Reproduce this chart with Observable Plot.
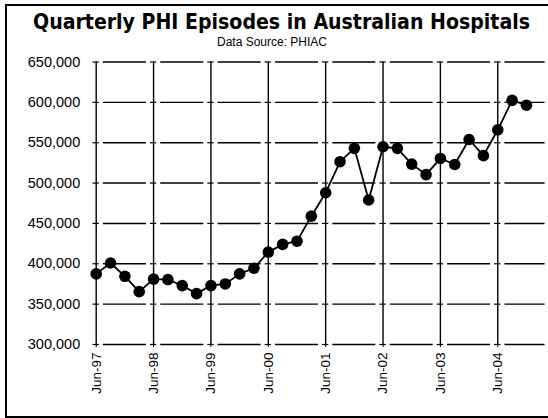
<!DOCTYPE html>
<html>
<head>
<meta charset="utf-8">
<script src="https://cdn.jsdelivr.net/npm/d3@7"></script>
<script src="https://cdn.jsdelivr.net/npm/@observablehq/plot@0.6"></script>
<style>
  html, body { margin: 0; padding: 0; background: #fff; }
  body { width: 548px; height: 418px; position: relative; overflow: hidden; }
  #frame { position: absolute; left: 5px; top: 4px; width: 543px; height: 414px; box-sizing: border-box;
           border-left: 2px solid #000; border-top: 2px solid #000; border-bottom: 2px solid #000; }
  #title { position: absolute; left: 33px; top: 11px; white-space: nowrap; transform-origin: 0 0;
           font-family: "DejaVu Sans Condensed", "DejaVu Sans", sans-serif; font-stretch: condensed;
           font-weight: bold; font-size: 22px; line-height: 1; color: #000; }
  #subtitle { position: absolute; left: 0; top: 36px; width: 544px; text-align: center;
              font-family: "Liberation Sans", Arial, sans-serif; font-size: 12px; line-height: 1; color: #000; }
  #chart { position: absolute; left: 0; top: 50px; }
</style>
</head>
<body>
<div id="frame"></div>
<div id="title">Quarterly PHI Episodes in Australian Hospitals</div>
<div id="subtitle">Data Source: PHIAC</div>
<div id="chart"></div>
<script>
const quarters = ["Jun-97","Sep-97","Dec-97","Mar-98","Jun-98","Sep-98","Dec-98","Mar-99",
                  "Jun-99","Sep-99","Dec-99","Mar-00","Jun-00","Sep-00","Dec-00","Mar-01",
                  "Jun-01","Sep-01","Dec-01","Mar-02","Jun-02","Sep-02","Dec-02","Mar-03",
                  "Jun-03","Sep-03","Dec-03","Mar-04","Jun-04","Sep-04","Dec-04"];
const episodes = [387500, 401000, 384500, 365500, 381000, 380500, 373000, 363000,
                  373000, 375000, 387500, 394500, 414500, 424000, 428000, 459000,
                  488000, 526500, 543000, 479000, 545000, 543000, 523500, 510500,
                  530500, 523000, 554000, 534000, 566000, 602500, 596500];
const xTickLabels = ["Jun-97","Jun-98","Jun-99","Jun-00","Jun-01","Jun-02","Jun-03","Jun-04"];
const yTicks = [300000, 350000, 400000, 450000, 500000, 550000, 600000, 650000];

// fit the title width (x 33 → 530)
const titleEl = document.getElementById("title");
const w0 = titleEl.getBoundingClientRect().width;
titleEl.style.transform = `scaleX(${497 / w0})`;

const data = quarters.map((q, i) => ({i, q, v: episodes[i]}));
const xMax = quarters.length + 0.3;
const yearIdx = xTickLabels.map(l => quarters.indexOf(l));

const segs = [];
const cross = [];
for (const v of yTicks) {
  yearIdx.forEach((k, j) => {
    const next = j + 1 < yearIdx.length ? yearIdx[j + 1] - 0.5 : xMax;
    segs.push({v, a: k + 0.5, b: next});
    cross.push({v, a: k - 0.22, b: k + 0.22});
  });
}

const chart = Plot.plot({
  width: 548,
  height: 368,
  marginLeft: 95.7,
  marginRight: 3.4,
  marginTop: 11.5,
  marginBottom: 74,
  style: {fontFamily: "'Liberation Sans', Arial, sans-serif", color: "#000", background: "transparent"},
  x: {domain: [0, xMax], axis: null},
  y: {domain: [300000, 650000], axis: null},
  marks: [
    Plot.ruleY(segs, {y: "v", x1: "a", x2: "b", stroke: "#000", strokeWidth: 1.4}),
    Plot.ruleY(cross, {y: "v", x1: "a", x2: "b", stroke: "#000", strokeWidth: 1.2}),
    Plot.ruleX(yearIdx, {x: d => d, y1: 300000, y2: 650000, stroke: "#000", strokeWidth: 1.4}),
    Plot.axisX(yearIdx, {x: d => d, tickSize: 3, tickPadding: 5, tickRotate: -90, label: null,
      tickFormat: i => quarters[i], fontSize: 13.5, stroke: "#000"}),
    Plot.axisY(yTicks, {y: d => d, tickSize: 0, tickPadding: 16, label: null,
      tickFormat: d3.format(","), fontSize: 14.5}),
    Plot.line(data, {x: "i", y: "v", stroke: "#000", strokeWidth: 1.8}),
    Plot.dot(data, {x: "i", y: "v", r: 5.8, fill: "#000", stroke: "none"})
  ]
});
document.getElementById("chart").appendChild(chart);
</script>
</body>
</html>
